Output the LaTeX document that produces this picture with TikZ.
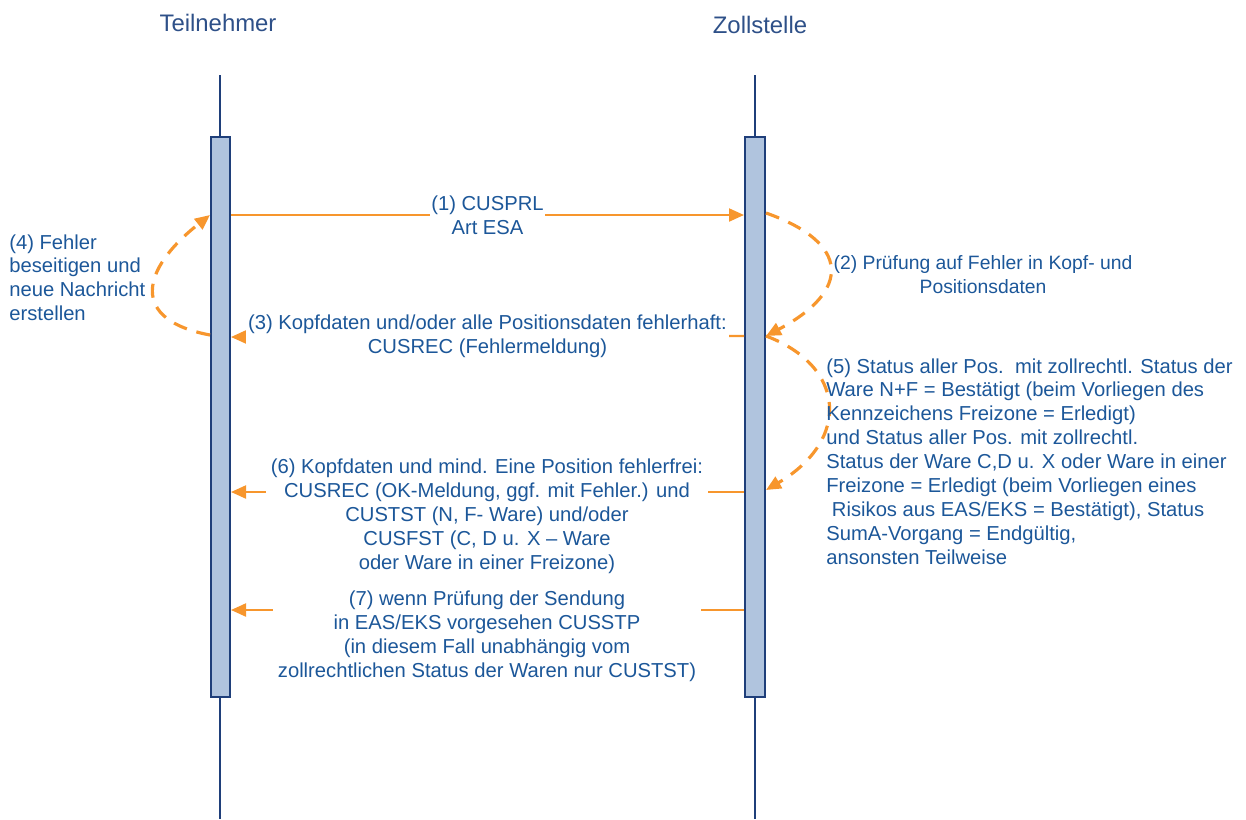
\documentclass[tikz,border=0pt]{standalone}
\usepackage{fontspec}
\setmainfont{Liberation Sans}
\usetikzlibrary{arrows.meta}
\definecolor{msgorange}{HTML}{F7962D}
\definecolor{txtblue}{HTML}{1C5799}
\definecolor{headblue}{HTML}{2E5088}
\definecolor{barfill}{HTML}{B0C4DE}
\definecolor{barline}{HTML}{1F3F7A}
\begin{document}
\begin{tikzpicture}[x=0.2mm,y=-0.2mm,>={Triangle[length=3mm,width=2.6mm]}]
		        \tikzstyle{head}=[font=\fontsize{13.6}{15}\selectfont,text=headblue]
		        \tikzstyle{lifeline}=[draw=barline,line width=1.4pt]
		        \tikzstyle{bar}=[draw=barline,line width=1.4pt,fill=barfill]
		        \tikzstyle{msg}=[draw=msgorange,line width=1.2pt,->]
		        \tikzstyle{loop}=[draw=msgorange,line width=1.8pt,dash pattern=on 2.8mm off 2mm,->]
		        \tikzstyle{label}=[font=\fontsize{11.5}{13.6}\selectfont,text=txtblue,align=center,fill=white,inner sep=1pt]
		        \tikzstyle{note}=[font=\fontsize{11.5}{13.6}\selectfont,text=txtblue,align=left,anchor=north west,inner sep=0pt]
		    	\begin{scope}
			         \useasboundingbox (0,0) rectangle (1246,819);

			         \node [head] (teil) at (218,23) {Teilnehmer};
			         \node [head] (zoll) at (760,25) {Zollstelle};

			         \draw [lifeline] (220,75) -- (220,819);
			         \draw [lifeline] (755,75) -- (755,819);
			         \draw [bar] (211,137) rectangle (230,697);
			         \draw [bar] (745,137) rectangle (765,697);

			         % Teilnehmer
			         \coordinate (l1) at (231,215);
			         \coordinate (l1o) at (210,215);
			         \coordinate (l3) at (231,337);
			         \coordinate (l3o) at (210,335);
			         \coordinate (l6) at (231,492);
			         \coordinate (l7) at (231,610);
			         % Zollstelle
			         \coordinate (r1) at (744,215);
			         \coordinate (r1o) at (766,213);
			         \coordinate (r3) at (744,336);
			         \coordinate (r3o) at (766,336);
			         \coordinate (r6) at (744,492);
			         \coordinate (r6o) at (766,490);
			         \coordinate (r7) at (744,610);

			         \path[msg] (l1) to node[label] {(1) CUSPRL\\Art ESA} (r1);
			         \path[loop] (r1o) .. controls +(85,30) and +(85,-45) .. (r3o);
			         \node [note,align=center,anchor=center,font=\fontsize{11}{13.6}\selectfont] (n2) at (983,275) {(2) Pr\"ufung auf Fehler in Kopf- und\\Positionsdaten};
			         \path[msg] (r3) to node[label] {(3) Kopfdaten und/oder alle Positionsdaten fehlerhaft:\\CUSREC (Fehlermeldung)} (l3);
			         \path[loop] (l3o) .. controls +(-80,-15) and +(-70,55) .. (l1o);
			         \node [note] (n4) at (9,234) {(4) Fehler\\beseitigen und\\neue Nachricht\\erstellen};
			         \path[loop] (r3o) .. controls +(80,30) and +(85,-50) .. (r6o);
			         \node [note] (n5) at (826,358) {(5) Status aller Pos.\ \ mit zollrechtl. Status der\\Ware N+F = Best\"atigt (beim Vorliegen des\\Kennzeichens Freizone = Erledigt)\\und Status aller Pos. mit zollrechtl.\\Status der Ware C,D u. X oder Ware in einer\\Freizone = Erledigt (beim Vorliegen eines\\\ Risikos aus EAS/EKS = Best\"atigt), Status\\SumA-Vorgang = Endg\"ultig,\\ansonsten Teilweise};
			         \path[msg] (r6) -- (l6);
			         \node [label,inner xsep=3pt] (m6) at (487,516) {(6) Kopfdaten und mind. Eine Position fehlerfrei:\\CUSREC (OK-Meldung, ggf. mit Fehler.) und\\CUSTST (N, F- Ware) und/oder\\CUSFST (C, D u. X -- Ware\\oder Ware in einer Freizone)};
			         \path[msg] (r7) -- (l7);
			         \node [label,inner xsep=3pt] (m7) at (487,636) {(7) wenn Pr\"ufung der Sendung\\in EAS/EKS vorgesehen CUSSTP\\(in diesem Fall unabh\"angig vom\\zollrechtlichen Status der Waren nur CUSTST)};
		         \end{scope}
		      \end{tikzpicture}
\end{document}
